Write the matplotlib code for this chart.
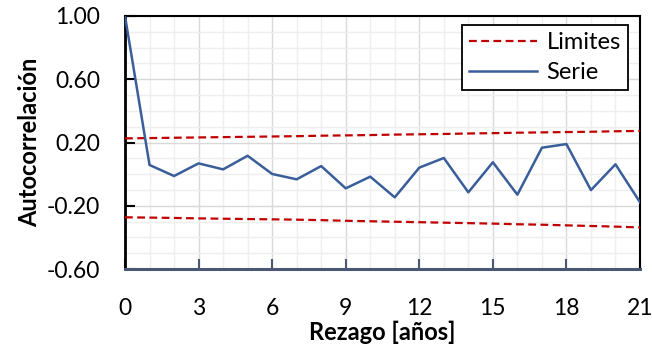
import matplotlib
matplotlib.use("Agg")
import matplotlib.pyplot as plt
from matplotlib.ticker import MultipleLocator, FormatStrFormatter

plt.rcParams['font.family'] = ['Lato', 'DejaVu Sans']

lags = list(range(22))
serie = [1.00, 0.058, -0.012, 0.068, 0.030, 0.116, 0.001, -0.033, 0.051, -0.090, -0.016,
         -0.147, 0.041, 0.102, -0.115, 0.075, -0.130, 0.167, 0.190, -0.101, 0.062, -0.178]
limite_sup = [0.226, 0.228, 0.230, 0.232, 0.234, 0.236, 0.238, 0.240, 0.243, 0.245, 0.247,
              0.250, 0.252, 0.254, 0.257, 0.259, 0.262, 0.264, 0.266, 0.268, 0.271, 0.273]
limite_inf = [-0.273, -0.275, -0.277, -0.280, -0.282, -0.284, -0.286, -0.288, -0.291, -0.295, -0.298,
              -0.301, -0.304, -0.307, -0.310, -0.313, -0.317, -0.320, -0.324, -0.328, -0.332, -0.337]
x_ticks = [0, 3, 6, 9, 12, 15, 18, 21]
y_ticks = [-0.60, -0.20, 0.20, 0.60, 1.00]

fig = plt.figure(figsize=(6.52, 3.45), dpi=100)
ax = fig.add_axes([125/652, 1-269/345, (640-125)/652, (269-16)/345])

red = '#C00000'
blue = '#3A5E9A'
slate = '#4A5873'

ax.plot(lags, limite_sup, color=red, lw=1.6, linestyle=(0, (3.5, 2)), label='Limites', zorder=3)
ax.plot(lags, limite_inf, color=red, lw=1.6, linestyle=(0, (3.5, 2)), zorder=3)
ax.plot(lags, serie, color=blue, lw=1.8, label='Serie', zorder=4)

ax.set_xlim(0, 21)
ax.set_ylim(-0.6, 1.0)
ax.set_xticks(x_ticks)
ax.set_yticks(y_ticks)
ax.xaxis.set_minor_locator(MultipleLocator(1))
ax.yaxis.set_minor_locator(MultipleLocator(0.1))
ax.yaxis.set_major_formatter(FormatStrFormatter('%.2f'))

ax.grid(which='major', color='#d9d9d9', lw=1.0, zorder=0)
ax.grid(which='minor', color='#efefef', lw=1.0, zorder=0)
ax.set_axisbelow(True)

ax.tick_params(axis='x', which='major', direction='in', length=7, width=1.5, color=slate,
               labelsize=16.5, pad=21)
ax.tick_params(axis='y', which='major', direction='in', length=7, width=1.5, color='black',
               labelsize=16.5, pad=18)
ax.tick_params(which='minor', length=0)

for s, c, w in [('left', 'black', 2.0), ('top', 'black', 1.5), ('right', 'black', 1.5), ('bottom', slate, 2.2)]:
    ax.spines[s].set_color(c)
    ax.spines[s].set_linewidth(w)

ax.set_xlabel('Rezago [años]', fontsize=17, fontweight='bold', labelpad=1)
ax.set_ylabel('Autocorrelación', fontsize=17, fontweight='bold', labelpad=4)

leg = ax.legend(loc='upper right', bbox_to_anchor=(628/652, 1-25/345), bbox_transform=fig.transFigure,
                fontsize=17, frameon=True, fancybox=False, edgecolor='black', framealpha=1,
                handlelength=2.9, borderpad=0.3, labelspacing=0.38, handletextpad=0.4, borderaxespad=0)
leg.get_frame().set_linewidth(1.3)

fig.savefig('out.png', dpi=100)
